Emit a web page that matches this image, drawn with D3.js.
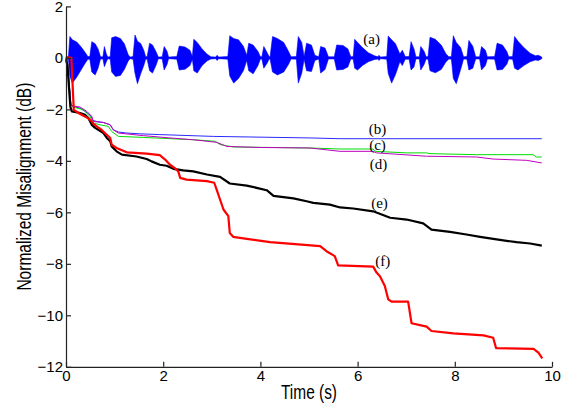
<!DOCTYPE html>
<html>
<head>
<meta charset="utf-8">
<script src="https://cdn.jsdelivr.net/npm/d3@7"></script>
<style>
  body { margin: 0; background: #fff; }
  svg { display: block; }
</style>
</head>
<body>
<svg id="svg" width="569" height="406"></svg>
<script>
// tick values
var xTicks = [0, 2, 4, 6, 8, 10];
var yTicks = [-12, -10, -8, -6, -4, -2, 0, 2];

// (a) speech signal, envelope: time, upper, lower
var waveT = [0.00, 0.05, 0.08, 0.13, 0.22, 0.30, 0.38, 0.45, 0.49, 0.53, 0.60, 0.66, 0.71, 0.76, 0.79, 0.83, 0.86,
  0.91, 0.94, 1.02, 1.12, 1.20, 1.28, 1.32, 1.38, 1.42, 1.47, 1.54, 1.60, 1.64, 1.67, 1.72, 1.78, 1.85, 1.90,
  1.98, 2.02, 2.08, 2.11, 2.28, 2.33, 2.45, 2.55, 2.60, 2.63, 2.70, 2.80, 2.90, 2.98, 3.08, 3.11, 3.14,
  3.33, 3.37, 3.45, 3.55, 3.65, 3.72, 3.76, 3.85, 3.95, 4.00, 4.03, 4.07, 4.14, 4.18, 4.20, 4.25, 4.35, 4.48,
  4.58, 4.63, 4.74, 4.78, 4.85, 4.90, 4.95, 5.05, 5.12, 5.20, 5.24, 5.33, 5.40, 5.52, 5.57, 5.70, 5.80, 5.86,
  5.91, 5.94, 6.00, 6.10, 6.22, 6.35, 6.42, 6.44, 6.47, 6.60, 6.63, 6.70, 6.78, 6.87, 6.92, 6.98,
  7.06, 7.10, 7.16, 7.20, 7.27, 7.30, 7.37, 7.41, 7.45, 7.49, 7.60, 7.72, 7.82, 7.88, 7.93, 7.97, 8.03, 8.12, 8.18,
  8.25, 8.29, 8.37, 8.43, 8.51, 8.55, 8.63, 8.67, 8.82, 8.87, 8.98, 9.07, 9.11, 9.19, 9.23, 9.30, 9.42, 9.55,
  9.66, 9.72, 9.79];
var waveHi = [0.03, 0.05, 0.83, 0.70, 0.62, 0.45, 0.25, 0.05, 0.05, 0.63, 0.55, 0.35, 0.04, 0.04, 0.44, 0.15, 0.03,
  0.05, 0.78, 0.83, 0.75, 0.55, 0.12, 0.03, 0.05, 0.89, 0.65, 0.55, 0.30, 0.04, 0.05, 0.57, 0.50, 0.25, 0.03,
  0.04, 0.44, 0.25, 0.03, 0.05, 0.46, 0.42, 0.30, 0.05, 0.72, 0.60, 0.35, 0.15, 0.04, 0.03, 0.10, 0.03,
  0.05, 0.86, 0.75, 0.70, 0.45, 0.10, 0.57, 0.50, 0.25, 0.04, 0.04, 0.44, 0.20, 0.04, 0.05, 0.83, 0.75, 0.60,
  0.25, 0.04, 0.05, 0.83, 0.60, 0.05, 0.57, 0.50, 0.10, 0.04, 0.44, 0.38, 0.04, 0.04, 0.50, 0.48, 0.35, 0.04,
  0.05, 0.72, 0.60, 0.40, 0.20, 0.08, 0.04, 0.10, 0.03, 0.05, 0.85, 0.70, 0.55, 0.15, 0.30, 0.05,
  0.05, 0.63, 0.35, 0.04, 0.04, 0.44, 0.25, 0.04, 0.05, 0.80, 0.72, 0.50, 0.15, 0.04, 0.05, 0.86, 0.60, 0.40, 0.04,
  0.05, 0.68, 0.45, 0.04, 0.04, 0.44, 0.30, 0.04, 0.05, 0.57, 0.50, 0.25, 0.04, 0.05, 0.83, 0.65, 0.40, 0.18,
  0.08, 0.10, 0.03];
var waveLo = [-0.03, -0.05, -0.70, -0.98, -0.75, -0.50, -0.25, -0.05, -0.05, -0.55, -0.66, -0.40, -0.04, -0.04, -0.34, -0.15, -0.03,
  -0.05, -0.55, -0.72, -0.68, -0.45, -0.12, -0.03, -0.05, -0.60, -1.00, -0.60, -0.30, -0.04, -0.05, -0.50, -0.59, -0.30, -0.03,
  -0.04, -0.47, -0.25, -0.03, -0.05, -0.47, -0.44, -0.30, -0.05, -0.50, -0.59, -0.30, -0.12, -0.04, -0.03, -0.10, -0.03,
  -0.05, -0.70, -0.98, -0.80, -0.50, -0.10, -0.50, -0.62, -0.30, -0.04, -0.04, -0.40, -0.20, -0.04, -0.05, -0.55, -0.66, -0.55,
  -0.25, -0.04, -0.05, -0.98, -0.60, -0.05, -0.50, -0.53, -0.10, -0.04, -0.59, -0.45, -0.04, -0.04, -0.47, -0.45, -0.35, -0.04,
  -0.05, -0.40, -0.47, -0.30, -0.15, -0.06, -0.04, -0.10, -0.03, -0.05, -0.60, -0.98, -0.65, -0.15, -0.30, -0.05,
  -0.05, -0.47, -0.35, -0.04, -0.04, -0.47, -0.25, -0.04, -0.05, -0.50, -0.58, -0.45, -0.15, -0.04, -0.05, -0.80, -1.00, -0.45, -0.04,
  -0.05, -0.47, -0.40, -0.04, -0.04, -0.47, -0.30, -0.04, -0.05, -0.47, -0.45, -0.25, -0.04, -0.05, -0.40, -0.47, -0.30, -0.15,
  -0.08, -0.10, -0.03];

// misalignment curves (b) .. (f): [time s, dB]
var curveB = [[0, 0], [0.03, -0.2], [0.10, -1.8], [0.15, -1.89], [0.29, -1.95], [0.49, -2.21], [0.56, -2.43],
  [0.63, -2.47], [0.77, -2.51], [0.91, -2.60], [0.97, -2.79], [1.08, -2.88], [1.25, -2.92], [1.52, -2.95],
  [1.93, -2.98], [3.03, -3.05], [5.02, -3.11], [5.64, -3.14], [9.79, -3.14]];
var curveC = [[0, 0], [0.03, -0.2], [0.10, -1.8], [0.15, -1.91], [0.36, -2.02], [0.49, -2.27], [0.56, -2.53],
  [0.70, -2.60], [0.87, -2.66], [0.94, -2.86], [1.08, -3.05], [1.59, -3.09], [2.62, -3.18], [3.07, -3.24],
  [3.17, -3.37], [3.44, -3.46], [5.02, -3.50], [5.64, -3.54], [6.32, -3.54], [6.36, -3.63], [7.01, -3.69],
  [7.42, -3.69], [7.49, -3.72], [8.45, -3.76], [9.61, -3.76], [9.68, -3.85], [9.79, -3.85]];
var curveD = [[0, 0], [0.03, -0.2], [0.10, -1.8], [0.12, -1.86], [0.29, -1.91], [0.43, -2.08], [0.53, -2.27],
  [0.56, -2.47], [0.77, -2.51], [0.91, -2.60], [0.97, -2.79], [1.08, -2.92], [1.59, -3.02], [2.14, -3.11],
  [2.62, -3.18], [3.10, -3.28], [3.31, -3.44], [3.99, -3.48], [5.02, -3.50], [5.64, -3.63], [6.32, -3.63],
  [6.39, -3.69], [7.42, -3.82], [8.45, -3.85], [8.79, -3.93], [9.48, -3.98], [9.79, -4.08]];
var curveE = [[0, -0.05], [0.03, -0.3], [0.09, -1.9], [0.12, -2.08], [0.29, -2.14], [0.39, -2.21], [0.46, -2.34],
  [0.53, -2.60], [0.60, -2.72], [0.77, -2.92], [0.84, -3.11], [0.91, -3.24], [0.94, -3.44], [1.04, -3.63],
  [1.15, -3.76], [1.45, -3.83], [1.66, -3.93], [1.76, -4.02], [1.93, -4.15], [2.07, -4.19], [2.21, -4.31],
  [2.41, -4.37], [2.62, -4.41], [2.90, -4.53], [3.17, -4.62], [3.37, -4.88], [3.72, -4.96], [4.13, -5.14],
  [4.27, -5.36], [4.68, -5.46], [4.95, -5.57], [5.09, -5.63], [5.43, -5.70], [5.64, -5.81], [5.91, -5.85],
  [6.32, -5.96], [6.67, -6.21], [7.01, -6.28], [7.35, -6.43], [7.52, -6.67], [7.90, -6.76], [8.24, -6.86],
  [8.52, -6.95], [8.86, -7.05], [9.27, -7.16], [9.55, -7.21], [9.79, -7.29]];
var curveF = [[0, -0.15], [0.03, 0.02], [0.11, 0.0], [0.13, -0.8], [0.16, -2.02], [0.29, -2.18], [0.46, -2.35],
  [0.52, -2.45], [0.56, -2.55], [0.63, -2.66], [0.73, -2.79], [0.80, -2.92], [0.91, -3.11], [0.94, -3.37],
  [1.04, -3.50], [1.25, -3.67], [1.66, -3.72], [1.93, -3.78], [2.04, -3.95], [2.14, -4.15], [2.24, -4.28],
  [2.31, -4.41], [2.35, -4.66], [2.48, -4.73], [2.90, -4.79], [3.05, -4.85], [3.10, -5.12], [3.24, -5.89],
  [3.34, -6.15], [3.37, -6.80], [3.44, -6.95], [3.72, -7.03], [4.20, -7.16], [5.23, -7.31], [5.36, -7.51],
  [5.53, -7.70], [5.60, -8.06], [6.32, -8.11], [6.39, -8.34], [6.46, -8.48], [6.56, -8.86], [6.63, -9.38],
  [6.70, -9.47], [7.04, -9.47], [7.11, -10.31], [7.42, -10.44], [7.52, -10.61], [7.97, -10.70], [8.59, -10.78],
  [8.79, -10.87], [8.85, -11.28], [9.62, -11.30], [9.72, -11.45], [9.80, -11.67]];

// curve labels, anchored in data coordinates
var labelText = ["(a)", "(b)", "(c)", "(d)", "(e)", "(f)"];
var labelT = [6.29, 6.41, 6.41, 6.43, 6.45, 6.52];
var labelV = [0.73, -2.76, -3.38, -4.11, -5.64, -7.90];

var svg = d3.select("svg"),
    margin = { top: 6.4, left: 66, right: 17, bottom: 39.2 },
    width = +svg.attr("width") - margin.left - margin.right,
    height = +svg.attr("height") - margin.top - margin.bottom,
    g = svg.append("g").attr("transform", "translate(" + margin.left + "," + margin.top + ")");

var x = d3.scaleLinear().domain([0, 10]).range([0, width]);
var y = d3.scaleLinear().domain([-12, 2]).range([height, 0]);

// speech waveform as filled envelope
var wave = waveT.map(function (t, i) { return { t: t, hi: waveHi[i], lo: waveLo[i] }; });
var area = d3.area()
    .x(function (d) { return x(d.t); })
    .y0(function (d) { return y(d.lo); })
    .y1(function (d) { return y(d.hi); });

g.append("path")
    .datum(wave)
    .attr("d", area)
    .attr("fill", "#0000ff")
    .attr("stroke", "#0000ff")
    .attr("stroke-width", 0.6);

var line = d3.line()
    .x(function (d) { return x(d[0]); })
    .y(function (d) { return y(d[1]); });

var curves = [
    { data: curveB, color: "#2a2aff", w: 1 },
    { data: curveC, color: "#00dd00", w: 1 },
    { data: curveD, color: "#c000c0", w: 1 },
    { data: curveE, color: "#000000", w: 2.2 },
    { data: curveF, color: "#ff0000", w: 2.2 }
];

curves.forEach(function (c) {
    g.append("path")
        .datum(c.data)
        .attr("d", line)
        .attr("fill", "none")
        .attr("stroke", c.color)
        .attr("stroke-width", c.w)
        .attr("stroke-linejoin", "round");
});

// axes, ticks pointing inward
var xAxis = g.append("g")
    .attr("transform", "translate(0," + height + ")")
    .call(d3.axisBottom(x).tickValues(xTicks).tickSizeInner(-5).tickSizeOuter(0).tickPadding(4));
var yAxis = g.append("g")
    .call(d3.axisLeft(y).tickValues(yTicks).tickSizeInner(-5).tickSizeOuter(0).tickPadding(3));

[xAxis, yAxis].forEach(function (a) {
    a.selectAll("path, line").attr("stroke", "#222").attr("stroke-width", 1.2);
    a.selectAll("text")
        .style("font-family", "Liberation Sans, Arial, sans-serif")
        .style("font-size", "15px")
        .attr("fill", "#000");
});

// curve labels
g.selectAll(".lbl")
    .data(labelText)
    .enter()
    .append("text")
    .attr("class", "lbl")
    .attr("x", function (d, i) { return x(labelT[i]); })
    .attr("y", function (d, i) { return y(labelV[i]); })
    .attr("text-anchor", "middle")
    .attr("dominant-baseline", "central")
    .style("font-family", "Liberation Serif, Times New Roman, serif")
    .style("font-size", "15px")
    .text(function (d) { return d; });

// axis titles
svg.append("text")
    .attr("x", margin.left + width / 2)
    .attr("y", 399)
    .attr("text-anchor", "middle")
    .attr("textLength", 56)
    .attr("lengthAdjust", "spacingAndGlyphs")
    .style("font-family", "Liberation Sans Narrow, Arial Narrow, sans-serif")
    .style("font-size", "20px")
    .text("Time (s)");

svg.append("text")
    .attr("transform", "translate(31," + (margin.top + height / 2) + ") rotate(-90)")
    .attr("text-anchor", "middle")
    .attr("textLength", 208)
    .attr("lengthAdjust", "spacingAndGlyphs")
    .style("font-family", "Liberation Sans Narrow, Arial Narrow, sans-serif")
    .style("font-size", "20px")
    .text("Normalized Misalignment (dB)");
</script>
</body>
</html>
